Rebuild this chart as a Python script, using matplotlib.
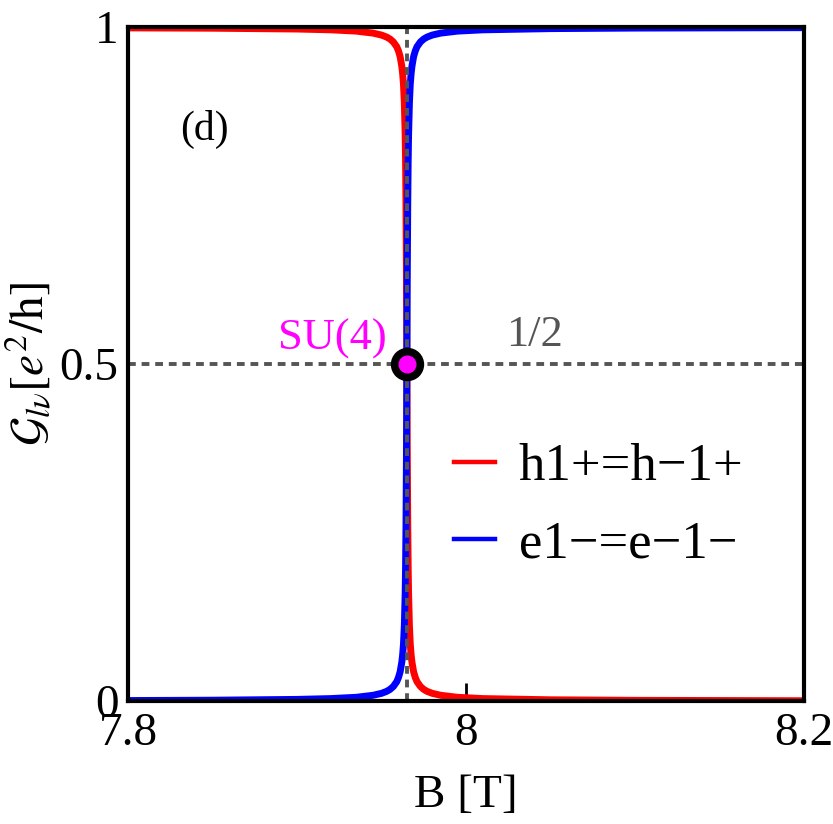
import matplotlib
matplotlib.use("Agg")
import matplotlib.pyplot as plt

plt.rcParams.update({"font.family": "Liberation Serif", "mathtext.fontset": "stix"})

# values
B = [7.80, 7.85, 7.90, 7.92, 7.935, 7.945, 7.950, 7.953, 7.955, 7.957, 7.959, 7.960, 7.961,
     7.962, 7.9625, 7.963, 7.9635, 7.964, 7.96425, 7.9645, 7.96475, 7.965,
     7.96525, 7.9655, 7.96575, 7.966, 7.9665, 7.967, 7.9675, 7.968, 7.969, 7.970, 7.971,
     7.973, 7.975, 7.977, 7.980, 7.985, 7.995, 8.010, 8.05, 8.10, 8.20]
G_h = [0.999, 0.9985, 0.9973, 0.9961, 0.9942, 0.9912, 0.9883, 0.9854, 0.9825, 0.9781, 0.971,
       0.965, 0.9565, 0.942, 0.931, 0.915, 0.888, 0.84, 0.798, 0.735, 0.636, 0.5,
       0.364, 0.265, 0.202, 0.16, 0.112, 0.085, 0.069, 0.058, 0.0435, 0.035, 0.029,
       0.0219, 0.0175, 0.0146, 0.0117, 0.0088, 0.0058, 0.0039, 0.0021, 0.0013, 0.0007]
G_e = [0.001, 0.0015, 0.0027, 0.0039, 0.0058, 0.0088, 0.0117, 0.0146, 0.0175, 0.0219, 0.029,
       0.035, 0.0435, 0.058, 0.069, 0.085, 0.112, 0.16, 0.202, 0.265, 0.364, 0.5,
       0.636, 0.735, 0.798, 0.84, 0.888, 0.915, 0.931, 0.942, 0.9565, 0.965, 0.971,
       0.9781, 0.9825, 0.9854, 0.9883, 0.9912, 0.9942, 0.9961, 0.9979, 0.9987, 0.9993]
labels = ["h1+=h\u22121+", "e1\u2212=e\u22121\u2212"]
B_su4, G_su4 = 7.965, 0.5
xticks = [7.8, 8.0, 8.2]; xticklabels = ["7.8", "8", "8.2"]
yticks = [0, 0.5, 1]; yticklabels = ["0", "0.5", "1"]

GRAY, MAG = "#555555", "#ff00ff"
FS = 34

fig = plt.figure(figsize=(8.33, 8.24), dpi=100)
ax = fig.add_axes([0.1537, 0.149, 0.8115, 0.818])
ax.set_xlim(7.8, 8.2); ax.set_ylim(0, 1)

ax.plot(B, G_h, color="#ff0000", lw=5, label=labels[0], zorder=2)
ax.plot(B, G_e, color="#0000ff", lw=5, label=labels[1], zorder=3)
ax.axhline(0.5, color=GRAY, lw=2.8, dashes=(2.0, 1.5), zorder=4)
ax.axvline(B_su4, color=GRAY, lw=2.8, dashes=(2.0, 1.5), zorder=4)
ax.plot([B_su4], [G_su4], "o", ms=23, color="black", zorder=5)
ax.plot([B_su4], [G_su4], "o", ms=12, color=MAG, zorder=6)

ax.text(7.953, 0.522, "SU(4)", color=MAG, fontsize=32, ha="right", va="baseline")
ax.text(8.024, 0.527, "1/2", color=GRAY, fontsize=32, ha="left", va="baseline")
ax.text(7.845, 0.848, "(d)", color="black", fontsize=30, ha="center", va="center")

leg = ax.legend(loc="center left", bbox_to_anchor=(0.482, 0.290), frameon=False, fontsize=38,
                handlelength=0.78, handletextpad=0.45, labelspacing=0.55, borderpad=0,
                borderaxespad=0)
for ln in leg.get_lines():
    ln.set_linewidth(3.2)

ax.set_xticks(xticks, xticklabels); ax.set_yticks(yticks, yticklabels)
ax.tick_params(axis="x", direction="in", length=13, width=2, labelsize=FS, pad=8, top=False)
ax.tick_params(axis="y", length=0, labelsize=FS, pad=7)
ax.set_xlabel("B [T]", fontsize=FS, labelpad=14)
ax.set_ylabel(r"$\mathcal{G}_{l\nu}[e^2/\mathrm{h}]$", fontsize=FS, labelpad=4)
for sp in ax.spines.values():
    sp.set_linewidth(3); sp.set_zorder(7)

fig.savefig("out.png", dpi=100)
